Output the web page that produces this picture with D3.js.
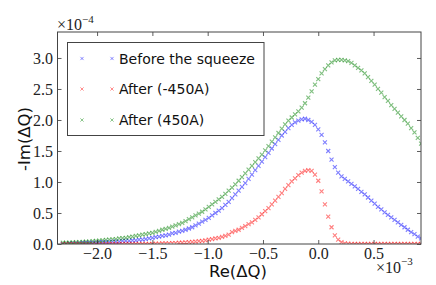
<!DOCTYPE html>
<html>
<head>
<meta charset="utf-8">
<script src="https://cdn.jsdelivr.net/npm/d3@7"></script>
<style>
    body { margin: 0; background: #fff; }
    .tick text { font-family: "Liberation Serif", serif; font-size: 16px; fill: #222; }
    .tick line { stroke: #333; stroke-width: 0.8; }
    .label { font-family: "DejaVu Sans", sans-serif; font-size: 16.5px; fill: #111; }
    .legend-text { font-family: "DejaVu Sans", sans-serif; font-size: 14px; fill: #111; }
    .offset { font-family: "Liberation Serif", serif; font-size: 16px; fill: #222; }
</style>
</head>
<body>
<div id="chart"></div>
<script>
// Re(dQ) in units of 1e-3, shared by all three series
const reValues = [
    -2.31, -2.28, -2.25, -2.22, -2.19, -2.16, -2.13, -2.10, -2.07, -2.04,
    -2.01, -1.98, -1.95, -1.92, -1.89, -1.86, -1.83, -1.80, -1.77, -1.74,
    -1.71, -1.68, -1.65, -1.62, -1.59, -1.56, -1.53, -1.50, -1.47, -1.44,
    -1.41, -1.38, -1.35, -1.32, -1.29, -1.26, -1.23, -1.20, -1.17, -1.14,
    -1.11, -1.08, -1.05, -1.02, -0.99, -0.96, -0.93, -0.90, -0.87, -0.84,
    -0.81, -0.78, -0.75, -0.72, -0.69, -0.66, -0.63, -0.60, -0.57, -0.54,
    -0.51, -0.48, -0.45, -0.42, -0.39, -0.36, -0.33, -0.30, -0.27, -0.24,
    -0.21, -0.18, -0.15, -0.12, -0.09, -0.06, -0.03, 0.00, 0.03, 0.06,
    0.09, 0.12, 0.15, 0.18, 0.21, 0.24, 0.27, 0.30, 0.33, 0.36,
    0.39, 0.42, 0.45, 0.48, 0.51, 0.54, 0.57, 0.60, 0.63, 0.66,
    0.69, 0.72, 0.75, 0.78, 0.81, 0.84, 0.87, 0.90, 0.93
];

// -Im(dQ) in units of 1e-4
const beforeSqueeze = [
    0.00, 0.00, 0.01, 0.01, 0.01, 0.01, 0.02, 0.02, 0.02, 0.02,
    0.02, 0.03, 0.03, 0.03, 0.03, 0.04, 0.04, 0.04, 0.05, 0.05,
    0.05, 0.06, 0.06, 0.07, 0.07, 0.08, 0.09, 0.10, 0.11, 0.12,
    0.13, 0.14, 0.15, 0.17, 0.18, 0.20, 0.21, 0.23, 0.25, 0.27,
    0.30, 0.33, 0.36, 0.39, 0.42, 0.46, 0.50, 0.54, 0.58, 0.63,
    0.68, 0.74, 0.80, 0.86, 0.92, 0.98, 1.05, 1.12, 1.19, 1.26,
    1.33, 1.40, 1.47, 1.54, 1.61, 1.68, 1.75, 1.81, 1.87, 1.92,
    1.96, 1.99, 2.01, 2.02, 2.00, 1.97, 1.92, 1.85, 1.76, 1.64,
    1.50, 1.36, 1.24, 1.15, 1.09, 1.05, 1.01, 0.97, 0.93, 0.89,
    0.84, 0.80, 0.75, 0.70, 0.65, 0.60, 0.56, 0.51, 0.47, 0.43,
    0.39, 0.35, 0.31, 0.27, 0.23, 0.19, 0.16, 0.12, 0.09
];

const afterNeg450 = [
    0, 0, 0, 0, 0, 0, 0, 0, 0, 0,
    0, 0, 0, 0, 0, 0, 0, 0, 0, 0,
    0, 0, 0, 0, 0, 0, 0, 0, 0.005, 0.005,
    0.01, 0.01, 0.01, 0.015, 0.015, 0.02, 0.02, 0.025, 0.03, 0.035,
    0.04, 0.045, 0.05, 0.06, 0.07, 0.08, 0.09, 0.10, 0.115, 0.13,
    0.15, 0.19, 0.21, 0.23, 0.26, 0.29, 0.32, 0.35, 0.39, 0.43,
    0.48, 0.53, 0.58, 0.64, 0.70, 0.76, 0.82, 0.89, 0.95, 1.01,
    1.06, 1.11, 1.15, 1.18, 1.19, 1.18, 1.12, 1.02, 0.85, 0.64,
    0.44, 0.27, 0.14, 0.07, 0.03, 0.01, 0.005, 0, 0, 0,
    0, 0, 0, 0, 0, 0, 0, 0, 0, 0,
    0, 0, 0, 0, 0, 0, 0, 0, 0
];

const afterPos450 = [
    0.02, 0.02, 0.02, 0.025, 0.03, 0.03, 0.035, 0.04, 0.04, 0.045,
    0.05, 0.055, 0.06, 0.065, 0.07, 0.075, 0.08, 0.09, 0.095, 0.10,
    0.11, 0.12, 0.13, 0.14, 0.15, 0.16, 0.17, 0.18, 0.195, 0.21,
    0.23, 0.245, 0.26, 0.28, 0.30, 0.32, 0.34, 0.37, 0.40, 0.43,
    0.46, 0.49, 0.52, 0.56, 0.60, 0.64, 0.68, 0.72, 0.76, 0.81,
    0.86, 0.91, 0.96, 1.02, 1.08, 1.14, 1.20, 1.26, 1.32, 1.38,
    1.44, 1.51, 1.58, 1.65, 1.72, 1.79, 1.86, 1.93, 1.99, 2.04,
    2.09, 2.14, 2.20, 2.27, 2.36, 2.46, 2.57, 2.66, 2.75, 2.82,
    2.88, 2.93, 2.96, 2.97, 2.97, 2.96, 2.95, 2.92, 2.88, 2.84,
    2.80, 2.75, 2.69, 2.63, 2.57, 2.50, 2.44, 2.37, 2.31, 2.24,
    2.18, 2.12, 2.06, 2.00, 1.94, 1.87, 1.80, 1.71, 1.62
];

const seriesNames = ["Before the squeeze", "After (-450A)", "After (450A)"];
const seriesColors = ["#0000ff", "#ff0000", "#008000"];
const seriesValues = [beforeSqueeze, afterNeg450, afterPos450];

const xTicks = [-2.0, -1.5, -1.0, -0.5, 0.0, 0.5];
const yTicks = [0.0, 0.5, 1.0, 1.5, 2.0, 2.5, 3.0];

// size of the picture & the plotting box
const width = 436;
const height = 285;
const box = { left: 57.5, right: 421, top: 32, bottom: 244 };

const xScale = d3.scaleLinear()
                 .domain([-2.358, 0.929])
                 .range([box.left, box.right]);
const yScale = d3.scaleLinear()
                 .domain([0, 3.419])
                 .range([box.bottom, box.top]);

const fmt = (d) => d3.format(".1f")(d).replace("-", "\u2212");

const svg = d3.select("#chart")
              .append("svg")
              .attr("width", width)
              .attr("height", height);

svg.append("clipPath")
   .attr("id", "clip")
   .append("rect")
   .attr("x", box.left)
   .attr("y", box.top)
   .attr("width", box.right - box.left)
   .attr("height", box.bottom - box.top);

const xMark = "M-2,-2L2,2M-2,2L2,-2";

// scatter points, one group per series
const plot = svg.append("g").attr("clip-path", "url(#clip)");
seriesValues.forEach((vals, s) => {
    plot.append("g")
        .selectAll("path")
        .data(vals)
        .enter()
        .append("path")
        .attr("d", xMark)
        .attr("transform", (d, i) => "translate(" + xScale(reValues[i]) + "," + yScale(d) + ")")
        .attr("stroke", seriesColors[s])
        .attr("stroke-width", 1.1)
        .attr("stroke-opacity", 0.5)
        .attr("fill", "none");
});

// axes: ticks pointing inside on all four sides
svg.append("g")
   .attr("transform", "translate(0," + box.bottom + ")")
   .call(d3.axisBottom(xScale).tickValues(xTicks).tickFormat(fmt).tickSize(-4).tickPadding(4))
   .call(g => g.select(".domain").remove());
svg.append("g")
   .attr("transform", "translate(0," + box.top + ")")
   .call(d3.axisTop(xScale).tickValues(xTicks).tickFormat("").tickSize(-4))
   .call(g => g.select(".domain").remove());
svg.append("g")
   .attr("transform", "translate(" + box.left + ",0)")
   .call(d3.axisLeft(yScale).tickValues(yTicks).tickFormat(fmt).tickSize(-4).tickPadding(4.5))
   .call(g => g.select(".domain").remove());
svg.append("g")
   .attr("transform", "translate(" + box.right + ",0)")
   .call(d3.axisRight(yScale).tickValues(yTicks).tickFormat("").tickSize(-4))
   .call(g => g.select(".domain").remove());

svg.selectAll("g").attr("font-family", null).attr("font-size", null);
svg.selectAll(".tick text").attr("fill", null);

svg.append("rect")
   .attr("x", box.left)
   .attr("y", box.top)
   .attr("width", box.right - box.left)
   .attr("height", box.bottom - box.top)
   .attr("fill", "none")
   .attr("stroke", "#444")
   .attr("stroke-width", 1);

// axis labels
svg.append("text")
   .attr("class", "label")
   .attr("x", 238)
   .attr("y", 277)
   .attr("text-anchor", "middle")
   .text("Re(\u0394Q)");
svg.append("text")
   .attr("class", "label")
   .attr("transform", "translate(30,139) rotate(-90)")
   .attr("text-anchor", "middle")
   .text("-Im(\u0394Q)");

// offset (scale) texts
const topOffset = svg.append("text").attr("class", "offset").attr("x", 57).attr("y", 30);
topOffset.append("tspan").text("\u00d710");
topOffset.append("tspan").attr("dy", -7).attr("font-size", 11).text("\u22124");
const botOffset = svg.append("text").attr("class", "offset").attr("x", 376).attr("y", 273);
botOffset.append("tspan").text("\u00d710");
botOffset.append("tspan").attr("dy", -8).attr("font-size", 11).text("\u22123");

// legend
const legend = svg.append("g");
legend.append("rect")
      .attr("x", 67.5)
      .attr("y", 42.5)
      .attr("width", 196.5)
      .attr("height", 93)
      .attr("fill", "#fff")
      .attr("stroke", "#444")
      .attr("stroke-width", 1);
const rowY = [58.5, 89, 120];
seriesNames.forEach((name, s) => {
    [82, 112].forEach((mx) => {
        legend.append("path")
              .attr("d", "M-1.6,-1.6L1.6,1.6M-1.6,1.6L1.6,-1.6")
              .attr("transform", "translate(" + mx + "," + rowY[s] + ")")
              .attr("stroke", seriesColors[s])
              .attr("stroke-width", 1)
              .attr("stroke-opacity", 0.45)
              .attr("fill", "none");
    });
    legend.append("text")
          .attr("class", "legend-text")
          .attr("x", 119)
          .attr("y", rowY[s] + 5)
          .text(name);
});
</script>
</body>
</html>
